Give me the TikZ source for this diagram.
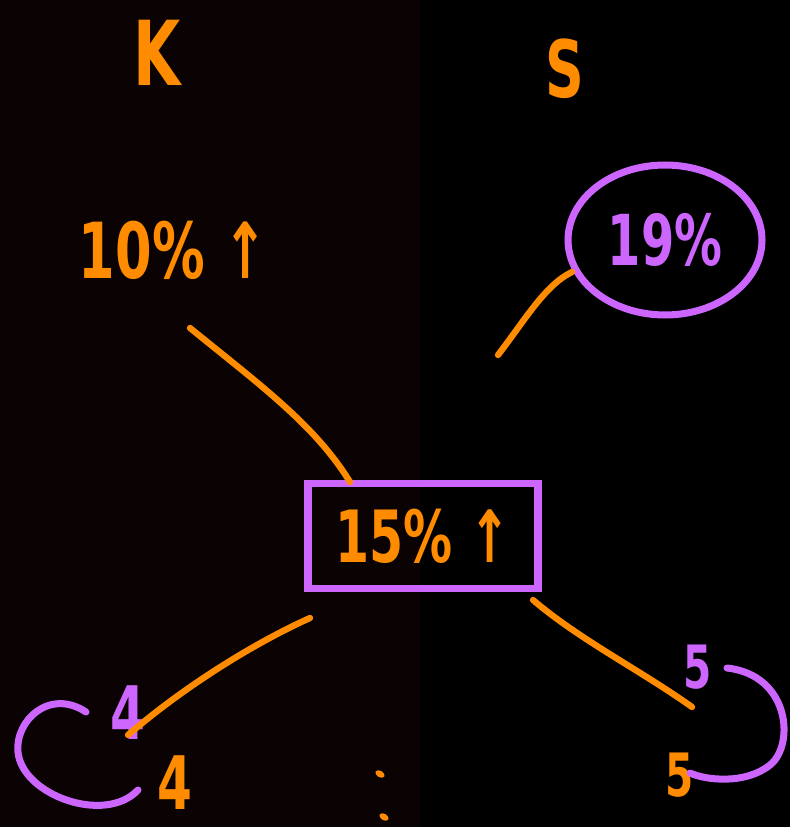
\documentclass[tikz,border=0pt]{standalone}
\usepackage{fontspec}
\setmainfont{DejaVu Sans}
\newfontfamily\handfont[FakeStretch=0.68]{DejaVu Sans}
\usetikzlibrary{shapes.geometric,calc}
\definecolor{inkorange}{RGB}{255,140,0}
\definecolor{inkpurple}{RGB}{204,102,255}
\definecolor{boardleft}{RGB}{10,2,3}

\begin{document}
\begin{tikzpicture}[
    x=0.02cm, y=-0.02cm,
    hand/.style={inner sep=0pt, font={\handfont\bfseries\fontsize{#1}{#1}\selectfont}},
    wire/.style={inkorange, line width=3.6pt, line cap=round},
    loopmark/.style={inkpurple, line width=4pt, line cap=round},
    ring/.style={ellipse, draw=inkpurple, line width=4pt, minimum width=3.88cm,
                 minimum height=3cm, inner sep=0pt, text=inkpurple},
    box/.style={rectangle, draw=inkpurple, line width=4.5pt, minimum width=4.6cm,
                minimum height=2.1cm, inner sep=0pt, text=inkorange},
    dot/.style={ellipse, fill=inkorange, minimum width=0.2cm, minimum height=0.13cm,
                inner sep=0pt, rotate=-30}
]
\fill[black] (0,0) rectangle (790,827);
\fill[boardleft] (0,0) rectangle (420,827);
\useasboundingbox (0,0) rectangle (790,827);

\node[hand=51, text=inkorange] (colk) at (157,53) {K};
\node[hand=45, text=inkorange] (cols) at (565,69) {S};
\node[hand=44, text=inkorange] (left) at (173,250) {10\% ↑};
\node[ring, hand=40] (right) at (665,240) {19\%};
\node[box, hand=41] (mid) at (423,536) {15\% ↑};

\node[hand=42, text=inkpurple] (fourtop) at (128,713) {4};
\node[hand=42, text=inkorange] (fourbot) at (175,783) {4};
\node[hand=34, text=inkpurple] (fivetop) at (698,667) {5};
\node[hand=34, text=inkorange] (fivebot) at (680,775) {5};
\node[dot] (dota) at (380,774) {};
\node[dot] (dotb) at (384,817) {};

\coordinate (lefttail) at (190,328);
\coordinate (midnw) at (350,482);
\coordinate (righttail) at (498,355);
\coordinate (ringsw) at (572,272);
\coordinate (midsw) at (310,618);
\coordinate (fourend) at (128,735);
\coordinate (midse) at (533,600);
\coordinate (fiveend) at (692,707);

\draw[wire] (lefttail) .. controls (260,385) and (315,425) .. (midnw);
\draw[wire] (righttail) .. controls (525,320) and (545,285) .. (ringsw);
\draw[wire] (midsw) .. controls (250,645) and (180,690) .. (fourend);
\draw[wire] (midse) .. controls (580,640) and (640,670) .. (fiveend);

\draw[loopmark] (86,712) .. controls (50,688) and (15,720) .. (18,752)
    .. controls (22,795) and (105,825) .. (138,790);
\draw[loopmark] (727,668) .. controls (790,675) and (795,745) .. (770,765)
    .. controls (745,785) and (705,780) .. (690,773);
\end{tikzpicture}
\end{document}
